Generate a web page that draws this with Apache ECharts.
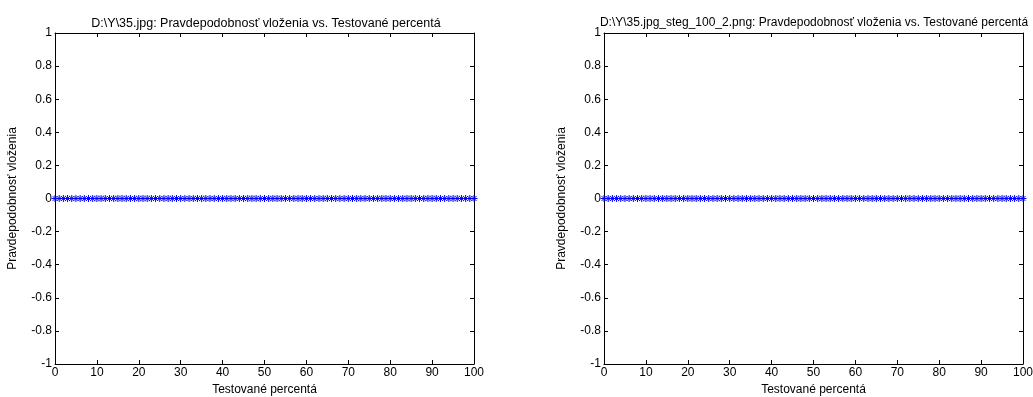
<!DOCTYPE html>
<html>
<head>
<meta charset="utf-8">
<script src="https://cdn.jsdelivr.net/npm/echarts@6/dist/echarts.min.js"></script>
<style>
  html, body { margin: 0; padding: 0; background: #fff; }
  #chart { width: 1033px; height: 397px; }
</style>
</head>
<body>
<div id="chart"></div>
<script>
// tested percentages 0..100
const percents = [
  0, 1, 2, 3, 4, 5, 6, 7, 8, 9, 10, 11, 12, 13, 14, 15, 16, 17, 18, 19,
  20, 21, 22, 23, 24, 25, 26, 27, 28, 29, 30, 31, 32, 33, 34, 35, 36, 37, 38, 39,
  40, 41, 42, 43, 44, 45, 46, 47, 48, 49, 50, 51, 52, 53, 54, 55, 56, 57, 58, 59,
  60, 61, 62, 63, 64, 65, 66, 67, 68, 69, 70, 71, 72, 73, 74, 75, 76, 77, 78, 79,
  80, 81, 82, 83, 84, 85, 86, 87, 88, 89, 90, 91, 92, 93, 94, 95, 96, 97, 98, 99, 100
];
// embedding probability, original image
const probOriginal = [
  0, 0, 0, 0, 0, 0, 0, 0, 0, 0, 0, 0, 0, 0, 0, 0, 0, 0, 0, 0,
  0, 0, 0, 0, 0, 0, 0, 0, 0, 0, 0, 0, 0, 0, 0, 0, 0, 0, 0, 0,
  0, 0, 0, 0, 0, 0, 0, 0, 0, 0, 0, 0, 0, 0, 0, 0, 0, 0, 0, 0,
  0, 0, 0, 0, 0, 0, 0, 0, 0, 0, 0, 0, 0, 0, 0, 0, 0, 0, 0, 0,
  0, 0, 0, 0, 0, 0, 0, 0, 0, 0, 0, 0, 0, 0, 0, 0, 0, 0, 0, 0, 0
];
// embedding probability, stego image
const probStego = [
  0, 0, 0, 0, 0, 0, 0, 0, 0, 0, 0, 0, 0, 0, 0, 0, 0, 0, 0, 0,
  0, 0, 0, 0, 0, 0, 0, 0, 0, 0, 0, 0, 0, 0, 0, 0, 0, 0, 0, 0,
  0, 0, 0, 0, 0, 0, 0, 0, 0, 0, 0, 0, 0, 0, 0, 0, 0, 0, 0, 0,
  0, 0, 0, 0, 0, 0, 0, 0, 0, 0, 0, 0, 0, 0, 0, 0, 0, 0, 0, 0,
  0, 0, 0, 0, 0, 0, 0, 0, 0, 0, 0, 0, 0, 0, 0, 0, 0, 0, 0, 0, 0
];
const titles = [
  'D:\\Y\\35.jpg: Pravdepodobnosť vloženia vs. Testované percentá',
  'D:\\Y\\35.jpg_steg_100_2.png: Pravdepodobnosť vloženia vs. Testované percentá'
];
const xLabel = 'Testované percentá';
const yLabel = 'Pravdepodobnosť vloženia';

const font = 'Liberation Sans, Arial, sans-serif';
const fs = 12;
const star = 'path://M0,-10L0,10M-10,0L10,0M-7,-7L7,7M-7,7L7,-7';

const grids = [
  { left: 55, right: 559, top: 33, bottom: 33, outerBoundsMode: 'none' },
  { left: 604, right: 10, top: 33, bottom: 33, outerBoundsMode: 'none' }
];

const xAxes = [];
const yAxes = [];
grids.forEach((g, i) => {
  xAxes.push({
    gridIndex: i, type: 'value', min: 0, max: 100, interval: 10,
    name: xLabel, nameLocation: 'middle', nameGap: 19,
    nameTextStyle: { fontFamily: font, fontSize: fs, color: '#000' },
    axisLine: { onZero: false, lineStyle: { color: '#000', width: 1 } },
    axisTick: { inside: true, length: 4, lineStyle: { color: '#000' } },
    axisLabel: { fontFamily: font, fontSize: fs, color: '#000', margin: 3 },
    splitLine: { show: false }
  });
  xAxes.push({
    gridIndex: i, type: 'value', min: 0, max: 100, interval: 10, position: 'top',
    axisLine: { onZero: false, lineStyle: { color: '#000', width: 1 } },
    axisTick: { inside: true, length: 4, lineStyle: { color: '#000' } },
    axisLabel: { show: false }, splitLine: { show: false }
  });
  yAxes.push({
    gridIndex: i, type: 'value', min: -1, max: 1, interval: 0.2,
    name: yLabel, nameLocation: 'middle', nameGap: 36,
    nameTextStyle: { fontFamily: font, fontSize: fs, color: '#000' },
    axisLine: { onZero: false, lineStyle: { color: '#000', width: 1 } },
    axisTick: { inside: true, length: 4, lineStyle: { color: '#000' } },
    axisLabel: {
      fontFamily: font, fontSize: fs, color: '#000', margin: 3,
      formatter: v => String(Math.round(v * 10) / 10)
    },
    splitLine: { show: false }
  });
  yAxes.push({
    gridIndex: i, type: 'value', min: -1, max: 1, interval: 0.2, position: 'right',
    axisLine: { onZero: false, lineStyle: { color: '#000', width: 1 } },
    axisTick: { inside: true, length: 4, lineStyle: { color: '#000' } },
    axisLabel: { show: false }, splitLine: { show: false }
  });
});

const mkSeries = (vals, i) => ({
  type: 'line',
  xAxisIndex: i * 2, yAxisIndex: i * 2,
  data: percents.map((p, k) => [p, vals[k]]),
  symbol: star, symbolSize: 7,
  itemStyle: { color: 'none', borderColor: '#0000ff', borderWidth: 1 },
  lineStyle: { color: '#0000ff', width: 1 },
  animation: false, silent: true
});

const chart = echarts.init(document.getElementById('chart'), null, { renderer: 'canvas' });
chart.setOption({
  backgroundColor: '#fff',
  animation: false,
  title: [
    { text: titles[0], left: 261, top: 12, textAlign: 'center',
      textStyle: { fontFamily: font, fontSize: 12.5, fontWeight: 'normal', color: '#000' } },
    { text: titles[1], left: 809, top: 12, textAlign: 'center',
      textStyle: { fontFamily: font, fontSize: 12, fontWeight: 'normal', color: '#000' } }
  ],
  grid: grids,
  xAxis: xAxes,
  yAxis: yAxes,
  series: [mkSeries(probOriginal, 0), mkSeries(probStego, 1)]
});
</script>
</body>
</html>
